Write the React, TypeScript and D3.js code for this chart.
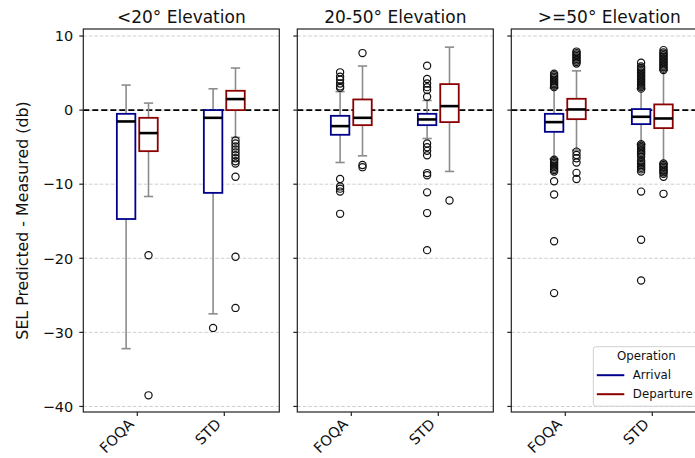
import React from "react";
import * as d3 from "d3";

const panelTitles = ["<20° Elevation", "20-50° Elevation", ">=50° Elevation"];
const categories = ["FOQA", "STD"];
const operations = ["Arrival", "Departure"];
const yTicks = [10, 0, -10, -20, -30, -40];

// order: panel -> category -> operation
const whiskerLow = [-32.2, -11.66, -27.5, -3.7, -7.07, -6.17, -3.83, -8.28, -6.6, -5.4, -4.6, -7.2];
const q1 = [-14.7, -5.54, -11.17, 0.0, -3.33, -2.03, -2.03, -1.62, -2.93, -1.22, -1.89, -2.43];
const median = [-1.53, -3.1, -1.04, 1.49, -2.16, -1.04, -1.26, 0.54, -1.62, 0.09, -0.9, -1.13];
const q3 = [-0.5, -1.04, 0.0, 2.61, -0.77, 1.44, -0.5, 3.51, -0.5, 1.53, 0.14, 0.77];
const whiskerHigh = [3.38, 0.95, 2.88, 5.68, 2.5, 5.95, 1.3, 8.5, 3.0, 5.3, 2.9, 5.4];
const outliers = [
  [],
  [-19.6, -38.5],
  [-29.4],
  [-4.1, -4.5, -4.9, -5.3, -5.7, -6.1, -6.5, -6.9, -7.2, -9.0, -19.8, -26.7],
  [5.1, 4.5, 4.1, 3.6, 3.2, 3.0, -9.3, -10.3, -10.6, -11.0, -14.0],
  [7.7, -7.4, -7.7],
  [6.0, 4.2, 3.6, 3.1, 2.7, 1.8, -4.5, -5.0, -5.5, -6.1, -8.5, -8.8, -11.1, -13.9, -18.9],
  [-12.2],
  [3.1, 3.3, 3.5, 3.7, 3.9, 4.1, 4.3, 4.5, 4.7, 4.9, -6.7, -6.9, -7.1, -7.3, -7.5, -7.7, -7.9, -8.1, -8.3, -9.6, -11.4, -17.7, -24.7],
  [6.3, 6.5, 6.7, 6.9, 7.1, 7.3, 7.5, 7.7, 7.9, -5.6, -6.05, -6.5, -7.07, -8.47, -9.3],
  [2.9, 3.1, 3.3, 3.5, 3.7, 3.9, 4.1, 4.3, 4.5, 4.7, 4.9, 5.1, 5.3, 5.5, 5.7, 5.9, 6.4, -4.6, -4.8, -5.0, -5.2, -5.4, -5.6, -5.8, -6.0, -6.3, -6.8, -7.0, -7.2, -7.4, -7.6, -7.8, -8.0, -8.3, -11.0, -17.5, -23.0],
  [5.4, 5.6, 5.8, 6.0, 6.2, 6.4, 6.6, 6.8, 7.0, 7.2, 7.4, 7.6, 7.8, 8.1, -7.2, -7.4, -7.6, -7.8, -8.0, -8.2, -8.4, -8.6, -9.0, -11.3],
];

const colors = ["#00008B", "#8B0000"];
const FONT = "'DejaVu Sans', sans-serif";

const W = 695;
const H = 458;
const panelLeft0 = 83.3;
const panelStep = 214;
const panelW = 196;
const top = 29;
const bottom = 412;

export default function App() {
  const y = d3.scaleLinear().domain([-40.75, 10.95]).range([bottom, top]);
  const xCat = d3.scalePoint<string>().domain(categories).range([54, 141]);
  const xOp = d3
    .scaleBand<string>()
    .domain(operations)
    .range([-20.45, 20.45])
    .paddingInner(0.174);
  const bw = xOp.bandwidth();

  return (
    <svg
      width={W}
      height={H}
      style={{ position: "absolute", left: 0, top: 0, background: "#fff" }}
      fontFamily={FONT}
    >
      <rect x={0} y={0} width={W} height={H} fill="#fff" />
      {panelTitles.map((title, p) => {
        const left = panelLeft0 + p * panelStep;
        return (
          <g key={p} transform={`translate(${left},0)`}>
            {yTicks.map((t) => (
              <line
                key={t}
                x1={0}
                x2={panelW}
                y1={y(t)}
                y2={y(t)}
                stroke="#c8c8c8"
                strokeWidth={0.9}
                strokeDasharray="3.5,2"
              />
            ))}
            <line
              x1={0}
              x2={panelW}
              y1={y(0)}
              y2={y(0)}
              stroke="#000"
              strokeWidth={1.6}
              strokeDasharray="6,3"
            />
            {categories.map((c, ci) =>
              operations.map((o, oi) => {
                const idx = p * 4 + ci * 2 + oi;
                const cx = (xCat(c) as number) + (xOp(o) as number) + bw / 2;
                const x0 = cx - bw / 2;
                return (
                  <g key={c + o}>
                    <line x1={cx} x2={cx} y1={y(q3[idx])} y2={y(whiskerHigh[idx])} stroke="#8c8c8c" strokeWidth={1.6} />
                    <line x1={cx} x2={cx} y1={y(q1[idx])} y2={y(whiskerLow[idx])} stroke="#8c8c8c" strokeWidth={1.6} />
                    <line x1={cx - bw / 4} x2={cx + bw / 4} y1={y(whiskerHigh[idx])} y2={y(whiskerHigh[idx])} stroke="#8c8c8c" strokeWidth={1.6} />
                    <line x1={cx - bw / 4} x2={cx + bw / 4} y1={y(whiskerLow[idx])} y2={y(whiskerLow[idx])} stroke="#8c8c8c" strokeWidth={1.6} />
                    <rect
                      x={x0}
                      y={y(q3[idx])}
                      width={bw}
                      height={y(q1[idx]) - y(q3[idx])}
                      fill="#fff"
                      stroke={colors[oi]}
                      strokeWidth={1.8}
                    />
                    <line x1={x0} x2={x0 + bw} y1={y(median[idx])} y2={y(median[idx])} stroke="#000" strokeWidth={2.6} />
                    {outliers[idx].map((v, k) => (
                      <circle key={k} cx={cx} cy={y(v)} r={3.6} fill="none" stroke="#111" strokeWidth={1.2} />
                    ))}
                  </g>
                );
              })
            )}
            <rect x={0} y={top} width={panelW} height={bottom - top} fill="none" stroke="#222" strokeWidth={1.2} />
            {yTicks.map((t) => (
              <g key={t}>
                <line x1={-4} x2={0} y1={y(t)} y2={y(t)} stroke="#222" strokeWidth={1.2} />
                {p === 0 && (
                  <text x={-10} y={y(t)} dy="0.36em" textAnchor="end" fontSize={14.5} fill="#111">
                    {t < 0 ? "\u2212" + Math.abs(t) : String(t)}
                  </text>
                )}
              </g>
            ))}
            {categories.map((c) => (
              <g key={c}>
                <line x1={xCat(c)} x2={xCat(c)} y1={bottom} y2={bottom + 4} stroke="#222" strokeWidth={1.2} />
                <text
                  transform={`translate(${(xCat(c) as number) - 2.5},${bottom + 13}) rotate(-45)`}
                  textAnchor="end"
                  fontSize={14.5}
                  fill="#111"
                >
                  {c}
                </text>
              </g>
            ))}
            <text x={panelW / 2} y={22.5} textAnchor="middle" fontSize={17} fill="#111">
              {title}
            </text>
          </g>
        );
      })}
      <text
        transform={`translate(27.5,${(top + bottom) / 2}) rotate(-90)`}
        textAnchor="middle"
        fontSize={15.8}
        fill="#111"
      >
        SEL Predicted - Measured (db)
      </text>
      <g transform="translate(593.3,346.7)">
        <rect x={0} y={0} width={110} height={59.5} rx={2.5} fill="#fff" fillOpacity={0.85} stroke="#d0d0d0" strokeWidth={1} />
        <text x={53} y={13.5} textAnchor="middle" fontSize={11.8} fill="#111">
          Operation
        </text>
        {operations.map((o, i) => (
          <g key={o} transform={`translate(0,${28.5 + i * 19})`}>
            <line x1={3.5} x2={31} y1={0} y2={0} stroke={colors[i]} strokeWidth={2} />
            <text x={39.5} y={0} dy="0.35em" fontSize={11.8} fill="#111">
              {o}
            </text>
          </g>
        ))}
      </g>
    </svg>
  );
}
